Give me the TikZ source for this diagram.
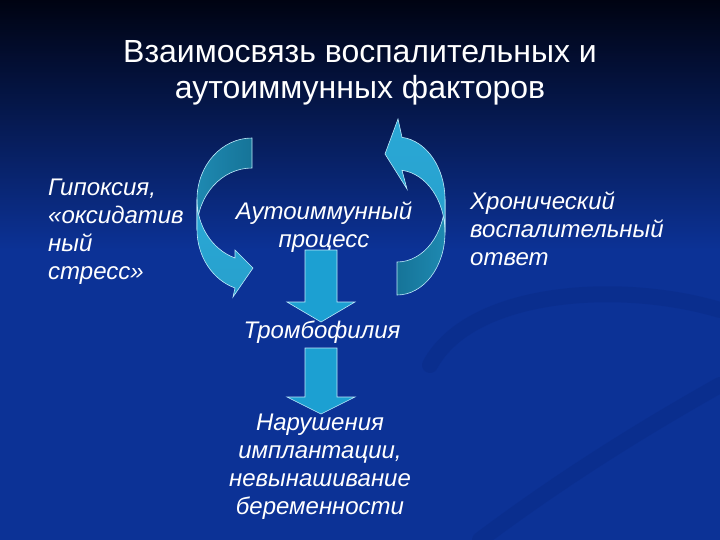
\documentclass[tikz,border=0pt]{standalone}
\usepackage{fontspec}
\setmainfont{Liberation Sans}
\definecolor{bgtop}{RGB}{0,3,18}
\definecolor{bgmid}{RGB}{6,28,98}
\definecolor{bgbot}{RGB}{12,50,150}
\definecolor{swirlcol}{RGB}{8,38,125}
\definecolor{arrowfill}{RGB}{28,160,210}
\definecolor{bandfront}{RGB}{42,168,214}
\definecolor{bandback}{RGB}{22,116,152}
\definecolor{rim}{RGB}{190,235,250}

\tikzset{
  titletext/.style={text=white, inner sep=0pt, align=center,
    font=\fontsize{32}{36}\selectfont},
  slidetext/.style={text=white, inner sep=0pt,
    font=\itshape\fontsize{24}{28}\selectfont},
  blockarrow/.style={fill=arrowfill, draw=rim, line width=0.6pt},
  band/.style={draw=rim, line width=0.6pt},
  swirl/.style={draw=swirlcol, line width=16pt, opacity=0.3, line cap=round}
}

\begin{document}
\begin{tikzpicture}[x=1pt,y=-1pt]
  \useasboundingbox (0,0) rectangle (720,540);
  \shade[top color=bgtop, middle color=bgmid, bottom color=bgbot] (0,0) rectangle (720,250);
  \fill[bgbot] (0,249) rectangle (720,540);
  \draw[swirl] (430,365) .. controls (470,290) and (620,280) .. (720,310);
  \draw[swirl] (720,385) .. controls (640,430) and (560,480) .. (480,540);

  \node[titletext] (title) at (360,73) {Взаимосвязь воспалительных и\\аутоиммунных факторов};

  \node[slidetext, align=left, anchor=west] (hypox) at (48,232) {Гипоксия,\\«оксидатив\\ный\\стресс»};
  \node[slidetext, align=center] (autoimm) at (324,227) {Аутоиммунный\\процесс};
  \node[slidetext, align=left, anchor=west] (chronic) at (470,229) {Хронический\\воспалительный\\ответ};
  \node[slidetext] (thromb) at (322,332) {Тромбофилия};
  \node[slidetext, align=center] (implant) at (320,467) {Нарушения\\имплантации,\\невынашивание\\беременности};

  % left curved arrow, back half then front half
  \shadedraw[band, left color=bandback!60!bandfront, right color=bandback]
    (252,138) arc[start angle=270, end angle=180, x radius=55, y radius=61.5]
    -- (197,229.5) arc[start angle=180, end angle=270, x radius=55, y radius=61.5] -- cycle;
  \shadedraw[band, top color=bandfront, bottom color=bandfront!85!bandback]
    (197,199.5) arc[start angle=180, end angle=108, x radius=55, y radius=61.5]
    -- (235,250) -- (253,268) -- (233,297) -- (235,288)
    arc[start angle=108, end angle=180, x radius=55, y radius=61.5] -- cycle;

  % right curved arrow
  \shadedraw[band, left color=bandback, right color=bandback!60!bandfront]
    (397,295) arc[start angle=90, end angle=0, x radius=48, y radius=62.5]
    -- (445,199.5) arc[start angle=0, end angle=90, x radius=48, y radius=62.5] -- cycle;
  \shadedraw[band, top color=bandfront, bottom color=bandfront!85!bandback]
    (445,199.5) arc[start angle=0, end angle=-84, x radius=48, y radius=62.5]
    -- (398,119) -- (385,154) -- (407,189) -- (402,170.3)
    arc[start angle=-84, end angle=0, x radius=48, y radius=62.5] -- cycle;

  % down arrows
  \foreach \top/\neck/\tip in {250/302/322, 348/397/414}
    \draw[blockarrow] (305,\top) -- (337,\top) -- (337,\neck) -- (355,\neck)
      -- (321,\tip) -- (287,\neck) -- (305,\neck) -- cycle;

\end{tikzpicture}
\end{document}
